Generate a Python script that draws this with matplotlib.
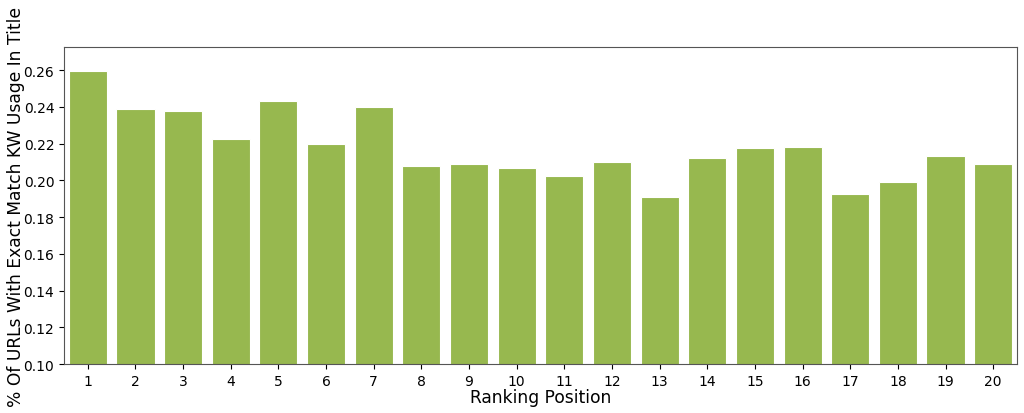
import matplotlib
matplotlib.use("Agg")
from matplotlib import pyplot as plt
import numpy as np

# Data
positions = list(range(1, 21))
pct_exact = [0.2593, 0.2389, 0.2378, 0.2223, 0.2431, 0.2196, 0.2397, 0.2076, 0.2091, 0.2069,
             0.2022, 0.2099, 0.1911, 0.2124, 0.2175, 0.2182, 0.1924, 0.1991, 0.2133, 0.2091]

fig = plt.figure(figsize=(10.24, 4.14), dpi=100)
ax = fig.add_axes([0.0625, 0.118, 0.9307, 0.766])

x = np.arange(len(positions))
ax.bar(x, pct_exact, width=0.8, color="#97b84f", edgecolor="white", linewidth=0.8)

ax.set_xticks(x)
ax.set_xticklabels([str(p) for p in positions], fontsize=10)
ax.tick_params(axis="y", labelsize=10)
ax.set_xlim(-0.5, len(positions) - 0.5)
ax.set_ylim(0.10, 0.2725)
ax.set_yticks(np.arange(0.10, 0.27, 0.02))
ax.yaxis.set_major_formatter(matplotlib.ticker.FormatStrFormatter("%.2f"))

ax.set_xlabel("Ranking Position", fontsize=12.3, labelpad=0)
ax.set_ylabel("% Of URLs With Exact Match KW Usage In Title", fontsize=12.3, labelpad=-1)

for s in ax.spines.values():
    s.set_color("#555555")

fig.savefig("out.png", dpi=100)
